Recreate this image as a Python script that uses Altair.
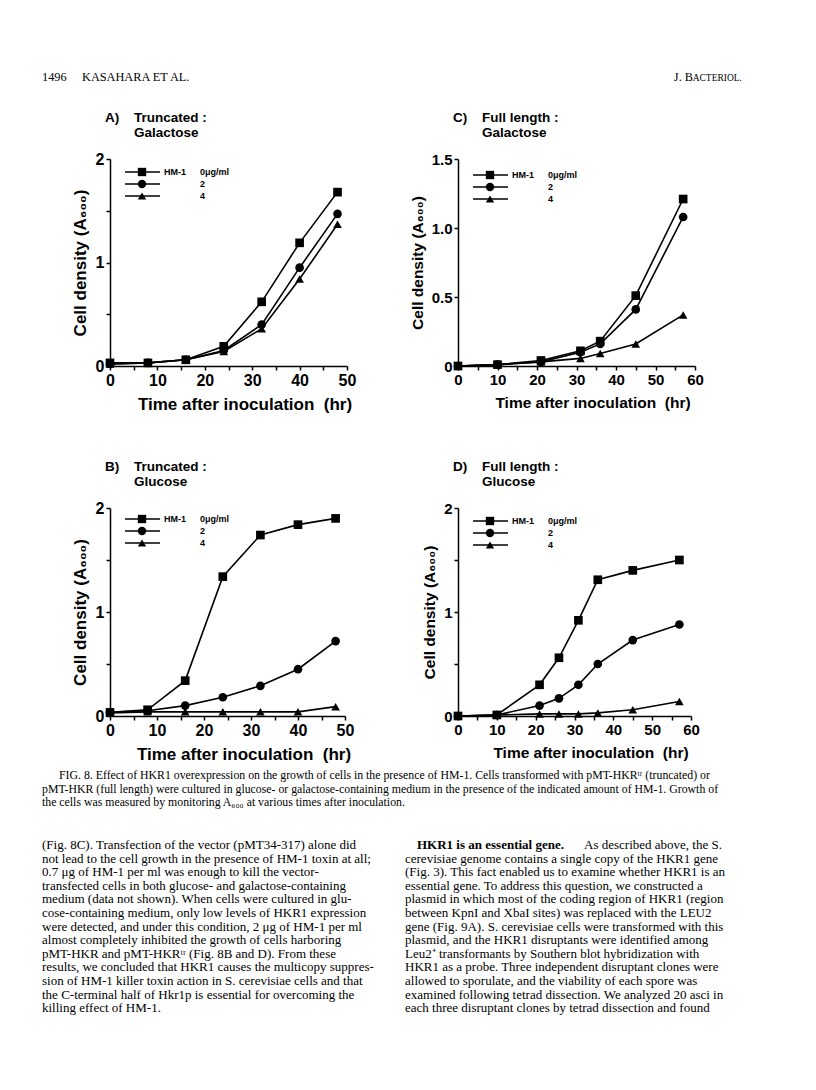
import altair as alt
import pandas as pd

SANS = "Liberation Sans"
SERIF = "Liberation Serif"

# ---------------- data ----------------
SERIES = ["0", "2", "4"]
LEGEND_LABELS = ["0\u03bcg/ml", "2", "4"]
SHAPES = ["square", "circle", "triangle-up"]

# A) Truncated : Galactose
A_time = [0, 8, 16, 24, 32, 40, 48]
A_hm0 = [0.03, 0.03, 0.06, 0.19, 0.62, 1.19, 1.68]
A_hm2 = [0.02, 0.03, 0.06, 0.15, 0.40, 0.95, 1.47]
A_hm4 = [0.02, 0.03, 0.06, 0.14, 0.36, 0.84, 1.37]

# B) Truncated : Glucose
B_time = [0, 8, 16, 24, 32, 40, 48]
B_hm0 = [0.035, 0.06, 0.34, 1.34, 1.74, 1.84, 1.90]
B_hm2 = [0.035, 0.05, 0.10, 0.18, 0.29, 0.45, 0.72]
B_hm4 = [0.03, 0.04, 0.04, 0.04, 0.04, 0.04, 0.09]

# C) Full length : Galactose
C_time = [0, 10, 21, 31, 36, 45, 57]
C_hm0 = [0.0, 0.01, 0.04, 0.11, 0.18, 0.51, 1.21]
C_hm2 = [0.0, 0.01, 0.03, 0.10, 0.16, 0.41, 1.08]
C_hm4 = [0.0, 0.01, 0.03, 0.055, 0.09, 0.16, 0.37]

# D) Full length : Glucose
D_time = [0, 10, 21, 26, 31, 36, 45, 57]
D_hm0 = [0.0, 0.01, 0.30, 0.56, 0.92, 1.31, 1.40, 1.50]
D_hm2 = [0.0, 0.01, 0.10, 0.17, 0.30, 0.50, 0.73, 0.88]
D_hm4 = [0.0, 0.01, 0.02, 0.02, 0.02, 0.03, 0.06, 0.14]

HEADER_LEFT = ["1496", "KASAHARA ET AL."]
CAPTION = [
    "FIG. 8. Effect of HKR1 overexpression on the growth of cells in the presence of HM-1. Cells transformed with pMT-HKR\u1d57\u02b3 (truncated) or",
    "pMT-HKR (full length) were cultured in glucose- or galactose-containing medium in the presence of the indicated amount of HM-1. Growth of",
    "the cells was measured by monitoring A\u2086\u2080\u2080 at various times after inoculation.",
]
BODY_LEFT = [
    "(Fig. 8C). Transfection of the vector (pMT34-317) alone did",
    "not lead to the cell growth in the presence of HM-1 toxin at all;",
    "0.7 \u03bcg of HM-1 per ml was enough to kill the vector-",
    "transfected cells in both glucose- and galactose-containing",
    "medium (data not shown). When cells were cultured in glu-",
    "cose-containing medium, only low levels of HKR1 expression",
    "were detected, and under this condition, 2 \u03bcg of HM-1 per ml",
    "almost completely inhibited the growth of cells harboring",
    "pMT-HKR and pMT-HKR\u1d57\u02b3 (Fig. 8B and D). From these",
    "results, we concluded that HKR1 causes the multicopy suppres-",
    "sion of HM-1 killer toxin action in S. cerevisiae cells and that",
    "the C-terminal half of Hkr1p is essential for overcoming the",
    "killing effect of HM-1.",
]
BODY_RIGHT_HEAD = "HKR1 is an essential gene."
BODY_RIGHT = [
    "As described above, the S.",
    "cerevisiae genome contains a single copy of the HKR1 gene",
    "(Fig. 3). This fact enabled us to examine whether HKR1 is an",
    "essential gene. To address this question, we constructed a",
    "plasmid in which most of the coding region of HKR1 (region",
    "between KpnI and XbaI sites) was replaced with the LEU2",
    "gene (Fig. 9A). S. cerevisiae cells were transformed with this",
    "plasmid, and the HKR1 disruptants were identified among",
    "Leu2\u207a transformants by Southern blot hybridization with",
    "HKR1 as a probe. Three independent disruptant clones were",
    "allowed to sporulate, and the viability of each spore was",
    "examined following tetrad dissection. We analyzed 20 asci in",
    "each three disruptant clones by tetrad dissection and found",
]

# origin of all page text = top-left of panel A's plot area (page x=110, y=159)
OX, OY = 110, 159


def make_df(time, s0, s2, s4):
    rows = []
    for name, vals in zip(SERIES, [s0, s2, s4]):
        for t, v in zip(time, vals):
            rows.append({"time": t, "od": v, "dose": name})
    return pd.DataFrame(rows)


def one():
    return pd.DataFrame({"k": [0]})


def page_text_layers():
    """Running head, figure caption and body text of the page (drawn in panel A's frame)."""
    tx = alt.X("x:Q", scale=None, axis=None)
    ty = alt.Y("y:Q", scale=None, axis=None)
    out = []
    # invisible anchor at the page's top-left corner (fixes the chart origin)
    out.append(alt.Chart(one()).mark_rect(opacity=0).encode(
        x=alt.value(8 - OX), x2=alt.value(9 - OX), y=alt.value(8 - OY), y2=alt.value(9 - OY)))
    hdr = pd.DataFrame({"text": HEADER_LEFT, "x": [42 - OX, 82 - OX], "y": [81 - OY] * 2})
    out.append(alt.Chart(hdr).mark_text(align="left", baseline="alphabetic", font=SERIF,
                                        fontSize=12.3, color="black").encode(
        x=tx, y=ty, text="text:N"))
    out.append(alt.Chart(one()).mark_text(align="right", baseline="alphabetic", font=SERIF,
                                          fontSize=9.5, color="black").encode(
        x=alt.value(742 - OX), y=alt.value(81 - OY), text=alt.value("ACTERIOL.")))
    out.append(alt.Chart(one()).mark_text(align="right", baseline="alphabetic", font=SERIF,
                                          fontSize=12.3, color="black").encode(
        x=alt.value(693 - OX), y=alt.value(81 - OY), text=alt.value("J. B")))
    cap = pd.DataFrame({"text": CAPTION,
                        "x": [59 - OX, 42 - OX, 42 - OX],
                        "y": [779 - OY + 13.5 * i for i in range(len(CAPTION))]})
    out.append(alt.Chart(cap).mark_text(align="left", baseline="alphabetic", font=SERIF,
                                        fontSize=11.8, color="black").encode(
        x=tx, y=ty, text="text:N"))
    bl = pd.DataFrame({"text": BODY_LEFT,
                       "x": [42 - OX] * len(BODY_LEFT),
                       "y": [849 - OY + 13.6 * i for i in range(len(BODY_LEFT))]})
    out.append(alt.Chart(bl).mark_text(align="left", baseline="alphabetic", font=SERIF,
                                       fontSize=13, color="black").encode(
        x=tx, y=ty, text="text:N"))
    br = pd.DataFrame({"text": BODY_RIGHT,
                       "x": [584 - OX] + [405 - OX] * (len(BODY_RIGHT) - 1),
                       "y": [849 - OY + 13.6 * i for i in range(len(BODY_RIGHT))]})
    out.append(alt.Chart(br).mark_text(align="left", baseline="alphabetic", font=SERIF,
                                       fontSize=13, color="black").encode(
        x=tx, y=ty, text="text:N"))
    out.append(alt.Chart(one()).mark_text(align="left", baseline="alphabetic", font=SERIF,
                                          fontSize=13, fontWeight="bold", color="black").encode(
        x=alt.value(417 - OX), y=alt.value(849 - OY), text=alt.value(BODY_RIGHT_HEAD)))
    return out


def panel(df, letter, line1, line2, xmax, ymax, ystep, ylabel_expr,
          width, height, label_size, title_size, leg_y0=13, leg_dy=12, extra=None):
    shape_scale = alt.Scale(domain=SERIES, range=SHAPES)
    common = dict(domainColor="black", domainWidth=1.5, tickColor="black",
                  tickWidth=1.5, tickSize=4, labelColor="black", labelFont=SANS,
                  labelFontWeight="bold", labelFontSize=label_size, labelFlush=False,
                  labelOverlap=False, labelPadding=2, titleColor="black",
                  titleFont=SANS, titleFontWeight="bold", titleFontSize=title_size,
                  grid=False)
    nyt = int(round(ymax / ystep))
    x = alt.X("time:Q", scale=alt.Scale(domain=[0, xmax], nice=False, zero=True),
              axis=alt.Axis(values=list(range(0, xmax + 1, 5)),
                            labelExpr="datum.value % 10 == 0 ? format(datum.value, 'd') : ''",
                            title="Time after inoculation\u00a0 (hr)",
                            titlePadding=8, titleX=width / 2 + 16, **common))
    y = alt.Y("od:Q", scale=alt.Scale(domain=[0, ymax], nice=False, zero=True),
              axis=alt.Axis(values=[round(i * ystep, 3) for i in range(nyt + 1)],
                            labelExpr=ylabel_expr,
                            title="Cell density (A\u2086\u2080\u2080)",
                            titlePadding=6, **common))
    base = alt.Chart(df)
    lines = base.mark_line(color="black", strokeWidth=1.6).encode(x=x, y=y, detail="dose:N")
    pts = base.mark_point(filled=True, color="black", size=75, opacity=1).encode(
        x=x, y=y, shape=alt.Shape("dose:N", scale=shape_scale, legend=None))

    layers = [lines, pts]
    # legend drawn inside the plot
    for i, (lab, shp) in enumerate(zip(LEGEND_LABELS, SHAPES)):
        yy = leg_y0 + i * leg_dy
        layers.append(alt.Chart(one()).mark_rule(color="black", strokeWidth=1.6).encode(
            x=alt.value(15), x2=alt.value(50), y=alt.value(yy)))
        layers.append(alt.Chart(one()).mark_point(shape=shp, filled=True, color="black",
                                                  size=70, opacity=1).encode(
            x=alt.value(32), y=alt.value(yy)))
        layers.append(alt.Chart(one()).mark_text(align="left", baseline="middle", font=SANS,
                                                 fontWeight="bold", fontSize=9,
                                                 color="black").encode(
            x=alt.value(90), y=alt.value(yy), text=alt.value(lab)))
    layers.append(alt.Chart(one()).mark_text(align="left", baseline="middle", font=SANS,
                                             fontWeight="bold", fontSize=9,
                                             color="black").encode(
        x=alt.value(54), y=alt.value(leg_y0), text=alt.value("HM-1")))
    # panel heading (two lines)
    tstyle = dict(align="left", baseline="alphabetic", font=SANS, fontWeight="bold",
                  fontSize=13.5, color="black")
    layers.append(alt.Chart(one()).mark_text(**tstyle).encode(
        x=alt.value(-5), y=alt.value(-37), text=alt.value(letter)))
    layers.append(alt.Chart(one()).mark_text(**tstyle).encode(
        x=alt.value(24), y=alt.value(-37), text=alt.value(line1)))
    layers.append(alt.Chart(one()).mark_text(**tstyle).encode(
        x=alt.value(24), y=alt.value(-22.5), text=alt.value(line2)))
    if extra:
        layers.extend(extra)
    return alt.layer(*layers).properties(width=width, height=height)


int_labels = "datum.value % 1 == 0 ? format(datum.value, 'd') : ''"
half_labels = "datum.value == 0 ? '0' : format(datum.value, '.1f')"

pA = panel(make_df(A_time, A_hm0, A_hm2, A_hm4), "A)", "Truncated :", "Galactose",
           50, 2, 0.5, int_labels, 237, 207, 16, 17, extra=page_text_layers())
pC = panel(make_df(C_time, C_hm0, C_hm2, C_hm4), "C)", "Full length :", "Galactose",
           60, 1.5, 0.5, half_labels, 237, 207, 15, 15.5, leg_y0=16)
pB = panel(make_df(B_time, B_hm0, B_hm2, B_hm4), "B)", "Truncated :", "Glucose",
           50, 2, 0.5, int_labels, 235, 208, 16, 17, leg_y0=11)
pD = panel(make_df(D_time, D_hm0, D_hm2, D_hm4), "D)", "Full length :", "Glucose",
           60, 2, 0.5, int_labels, 233, 208, 15, 15.5)

chart = alt.concat(pA, pC, pB, pD, columns=2,
                   spacing={"row": 142, "column": 111}, bounds="flush").properties(
    padding=0
).configure_view(stroke=None)

chart.save("out.html", embed_options={"renderer": "svg", "actions": False})
